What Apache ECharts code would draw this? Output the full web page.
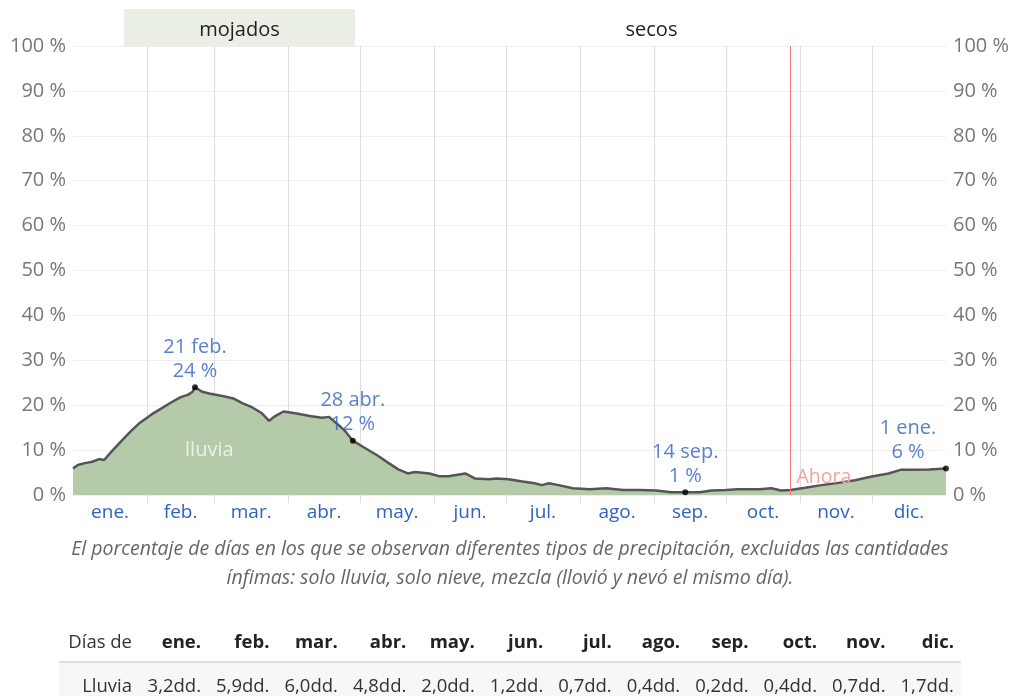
<!DOCTYPE html>
<html>
<head>
<meta charset="utf-8">
<script src="https://cdn.jsdelivr.net/npm/echarts@6/dist/echarts.min.js"></script>
<style>
html, body { margin: 0; padding: 0; background: #fff; }
#main { width: 1012px; height: 696px; }
</style>
</head>
<body>
<div id="main"></div>
<script>
// meses y límites (día del año)
var months = ['ene.', 'feb.', 'mar.', 'abr.', 'may.', 'jun.', 'jul.', 'ago.', 'sep.', 'oct.', 'nov.', 'dic.'];
var monthStarts = [31, 59, 90, 120, 151, 181, 212, 243, 273, 304, 334];
var monthMids = [15.5, 45, 74.5, 105, 135.5, 166, 196.5, 227.5, 258, 288.5, 319, 349.5];

// probabilidad diaria de lluvia (%)
var days = [0, 2, 5, 8, 11, 13, 16, 20, 24, 28, 33, 37, 41, 45, 48, 50, 51, 54, 57, 63, 67, 71, 75, 79, 82, 84, 88, 93, 99, 104, 107, 111, 114, 117, 121, 127, 132, 136, 140, 143, 149, 153, 157, 164, 168, 174, 177, 182, 188, 193, 196, 199, 203, 209, 216, 223, 230, 237, 244, 250, 256, 262, 267, 273, 278, 287, 292, 296, 300, 306, 313, 320, 327, 334, 341, 346, 351, 358, 365];
var rain = [5.9, 6.7, 7.1, 7.4, 8.0, 7.8, 9.6, 11.9, 14.1, 16.1, 18.0, 19.3, 20.6, 21.8, 22.3, 23.0, 24.0, 23.0, 22.6, 22.0, 21.5, 20.4, 19.5, 18.2, 16.5, 17.4, 18.6, 18.2, 17.6, 17.2, 17.4, 15.6, 14.1, 12.1, 10.8, 8.9, 7.1, 5.7, 4.8, 5.1, 4.8, 4.2, 4.2, 4.8, 3.7, 3.5, 3.7, 3.5, 3.0, 2.6, 2.2, 2.6, 2.2, 1.5, 1.3, 1.5, 1.1, 1.1, 1.0, 0.6, 0.6, 0.6, 1.0, 1.1, 1.3, 1.3, 1.5, 1.0, 1.1, 1.6, 2.2, 2.7, 3.3, 4.1, 4.8, 5.6, 5.6, 5.7, 5.9];

// puntos destacados
var highlightDays = [51, 117, 256, 365];
var highlightNames = ['21 feb.', '28 abr.', '14 sep.', '1 ene.'];

// temporadas
var seasonNames = ['', 'mojados', 'secos'];
var seasonStarts = [0, 21.3, 117.6];
var seasonEnds = [21.3, 117.6, 365];
var nowDay = 300;

// tabla
var rainDays = [3.2, 5.9, 6.0, 4.8, 2.0, 1.2, 0.7, 0.4, 0.2, 0.4, 0.7, 1.7];
var captionLines = [
    'El porcentaje de días en los que se observan diferentes tipos de precipitación, excluidas las cantidades',
    'ínfimas: solo lluvia, solo nieve, mezcla (llovió y nevó el mismo día).'
];

var FONT = '"Open Sans", sans-serif';
var BLUE = '#2f62c0';

var series = [];
series.push({
    name: 'Lluvia',
    type: 'line',
    data: days.map(function (d, i) { return [d, rain[i]]; }),
    symbol: 'none',
    lineStyle: { color: '#555', width: 2.5 },
    areaStyle: { color: '#b4caa8', opacity: 1 },
    z: 3,
    markLine: {
        silent: true,
        symbol: 'none',
        label: { show: false },
        lineStyle: { color: '#f27a7a', width: 1, type: 'solid' },
        data: [{ xAxis: nowDay }]
    },
    markPoint: {
        symbolSize: 0,
        itemStyle: { color: 'transparent' },
        data: [
            { coord: [57, 10], label: { show: true, position: 'inside', formatter: 'lluvia', color: 'rgba(255,255,255,0.75)', fontSize: 20, fontFamily: FONT } },
            { coord: [302.5, 4], label: { show: true, position: 'right', distance: 0, formatter: 'Ahora', color: '#f4a0a0', fontSize: 19.5, fontFamily: FONT } }
        ]
    }
});

series.push({
    type: 'scatter',
    clip: false,
    symbolSize: 6,
    itemStyle: { color: '#000' },
    z: 5,
    data: highlightDays.map(function (d, i) {
        var v = rain[days.indexOf(d)];
        var item = {
            value: [d, v],
            label: {
                show: true,
                position: 'top',
                distance: 1,
                formatter: highlightNames[i] + '\n' + Math.round(v) + ' %',
                color: BLUE,
                fontSize: 20,
                lineHeight: 24,
                fontFamily: FONT
            }
        };
        if (i === highlightDays.length - 1) item.label.offset = [-38, 0];
        return item;
    })
});

// franja superior de temporadas
series.push({
    type: 'line',
    xAxisIndex: 1,
    yAxisIndex: 2,
    data: [[0, 0]],
    symbol: 'none',
    lineStyle: { opacity: 0 },
    markArea: {
        silent: true,
        data: seasonNames.map(function (n, i) {
            return [{
                xAxis: seasonStarts[i],
                itemStyle: { color: n === 'mojados' ? '#e9efe5' : 'rgba(0,0,0,0)' },
                label: { show: true, position: 'inside', offset: [0, 3], formatter: n, color: '#222', fontSize: 20, fontFamily: FONT }
            }, { xAxis: seasonEnds[i] }];
        })
    }
});

// texto y tabla inferior
var graphic = [];
captionLines.forEach(function (t, i) {
    graphic.push({
        type: 'text', x: 510, y: 549 + i * 29,
        style: { text: t, textAlign: 'center', textVerticalAlign: 'middle', font: 'italic 19.5px ' + FONT, fill: '#666' }
    });
});
graphic.push({ type: 'rect', shape: { x: 59, y: 663, width: 902, height: 40 }, style: { fill: '#f7f7f7' } });
graphic.push({ type: 'rect', shape: { x: 59, y: 661, width: 902, height: 2 }, style: { fill: '#ddd' } });
graphic.push({ type: 'text', x: 132, y: 643, style: { text: 'Días de', textAlign: 'right', textVerticalAlign: 'middle', font: '18.5px ' + FONT, fill: '#333' } });
graphic.push({ type: 'text', x: 132, y: 687, style: { text: 'Lluvia', textAlign: 'right', textVerticalAlign: 'middle', font: '18.5px ' + FONT, fill: '#333' } });
var maxI = rainDays.indexOf(Math.max.apply(null, rainDays));
var minI = rainDays.indexOf(Math.min.apply(null, rainDays));
months.forEach(function (m, i) {
    var right = 201 + i * 68.45;
    graphic.push({ type: 'text', x: right, y: 643, style: { text: m, textAlign: 'right', textVerticalAlign: 'middle', font: 'bold 18.5px ' + FONT, fill: '#222' } });
    graphic.push({ type: 'text', x: right, y: 687, style: { text: rainDays[i].toFixed(1).replace('.', ',') + 'dd.', textAlign: 'right', textVerticalAlign: 'middle', font: '18.5px ' + FONT, fill: '#333' } });
    if (i === maxI || i === minI) {
        graphic.push({ type: 'rect', shape: { x: right - 54, y: 697, width: 54, height: 1 }, style: { fill: '#bbb' } });
    }
});

var axisLab = { formatter: '{value} %', color: '#777', fontSize: 20, fontFamily: FONT, margin: 7 };

var option = {
    animation: false,
    textStyle: { fontFamily: FONT },
    grid: [
        { left: 73, right: 64, top: 46, bottom: 201 },
        { left: 73, right: 64, top: 9, height: 37 }
    ],
    xAxis: [{
        type: 'value', min: 0, max: 365, gridIndex: 0,
        axisLine: { show: false },
        axisTick: { show: true, customValues: monthStarts, length: 8, lineStyle: { color: '#ddd' } },
        splitLine: { show: true, lineStyle: { color: '#ddd' } },
        axisLabel: {
            customValues: monthMids,
            formatter: function (v) { return months[monthMids.indexOf(v)]; },
            color: BLUE, fontSize: 19, fontFamily: FONT, margin: 8
        }
    }, {
        type: 'value', min: 0, max: 365, gridIndex: 1, show: false
    }],
    yAxis: [{
        type: 'value', min: 0, max: 100, interval: 10,
        axisLine: { show: false }, axisTick: { show: false },
        axisLabel: axisLab,
        splitLine: { lineStyle: { color: '#eee' } }
    }, {
        type: 'value', min: 0, max: 100, interval: 10, position: 'right',
        axisLine: { show: false }, axisTick: { show: false },
        axisLabel: axisLab,
        splitLine: { show: false }
    }, {
        type: 'value', min: 0, max: 1, gridIndex: 1, show: false
    }],
    graphic: graphic,
    series: series
};

var myChart = echarts.init(document.getElementById('main'));
myChart.setOption(option);
</script>
</body>
</html>
